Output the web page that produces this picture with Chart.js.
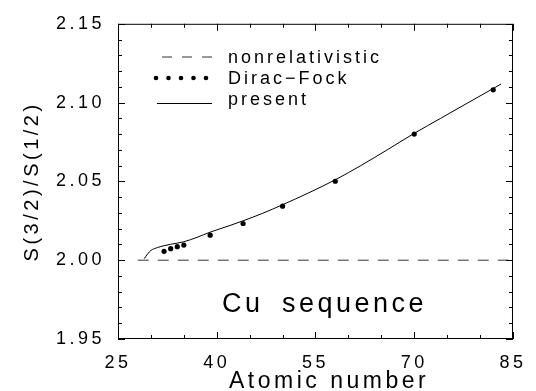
<!DOCTYPE html>
<html>
<head>
<meta charset="utf-8">
<script src="https://cdn.jsdelivr.net/npm/chart.js@4/dist/chart.umd.min.js"></script>
<style>
  html, body { margin: 0; padding: 0; background: #fff; }
</style>
</head>
<body>
<canvas id="myChart" width="536" height="391"></canvas>
<script>
// ----- data -----
const presentZ = [29, 29.5, 30, 31, 32, 33, 35, 37, 39, 42, 44, 47, 50, 54, 58, 62, 66, 70, 74, 78, 83.2];
const presentRatio = [2.0010, 2.0040, 2.0062, 2.0080, 2.0092, 2.0101, 2.0117, 2.0145, 2.0178, 2.0220,
                      2.0250, 2.0298, 2.0352, 2.0428, 2.0510, 2.0603, 2.0703, 2.0805, 2.0900, 2.0995, 2.1118];
const diracFockZ = [32, 33, 34, 35, 39, 44, 50, 58, 70, 82];
const diracFockRatio = [2.0056, 2.0073, 2.0086, 2.0096, 2.0159, 2.0233, 2.0343, 2.0501, 2.0800, 2.1081];
const nonrelZ = [28, 85];
const nonrelRatio = [2.00, 2.00];

const xTicks = [25, 40, 55, 70, 85];
const yTicks = [1.95, 2.00, 2.05, 2.10, 2.15];
const legendLabels = ['nonrelativistic', 'Dirac\u2212Fock', 'present'];
const xTitle = 'Atomic number';
const yTitle = 'S(3/2)/S(1/2)';

const toPoints = (xs, ys) => xs.map((x, i) => ({x: x, y: ys[i]}));

const FONT = '"Liberation Sans", Arial, sans-serif';

// inward ticks, frame, legend, x title and the "Cu sequence" note
const framePlugin = {
    id: 'frame',
    beforeDraw(chart) {
        chart.ctx.letterSpacing = '3.5px';
    },
    afterDatasetsDraw(chart) {
        const ctx = chart.ctx;
        const a = chart.chartArea;
        const xs = chart.scales.x, ys = chart.scales.y;
        ctx.save();
        ctx.strokeStyle = '#000';
        ctx.lineWidth = 1;
        ctx.strokeRect(a.left + 0.5, a.top + 0.5, a.right - a.left - 1, a.bottom - a.top - 1);

        ctx.beginPath();
        for (let v = 25; v <= 85; v += 5) {
            const px = Math.round(xs.getPixelForValue(v)) + 0.5;
            const len = (v - 25) % 15 === 0 ? 7 : 4;
            ctx.moveTo(px, a.bottom); ctx.lineTo(px, a.bottom - len);
            ctx.moveTo(px, a.top); ctx.lineTo(px, a.top + len);
        }
        for (let i = 0; i <= 20; i++) {
            const v = 1.95 + i * 0.01;
            const py = Math.round(ys.getPixelForValue(v)) + 0.5;
            const len = i % 5 === 0 ? 7 : 4;
            ctx.moveTo(a.left, py); ctx.lineTo(a.left + len, py);
            ctx.moveTo(a.right, py); ctx.lineTo(a.right - len, py);
        }
        ctx.stroke();

        // legend
        ctx.fillStyle = '#000';
        ctx.font = '18px ' + FONT;
        ctx.letterSpacing = '3px';
        ctx.textBaseline = 'alphabetic';
        ctx.textAlign = 'left';
        const rows = [63, 83.5, 105];
        const markY = [57, 78, 103.5];
        const x0 = 157, x1 = 212, tx = 228;

        ctx.strokeStyle = '#333';
        ctx.setLineDash([10, 10]);
        ctx.beginPath(); ctx.moveTo(x0 + 5, markY[0]); ctx.lineTo(x1, markY[0]); ctx.stroke();
        ctx.setLineDash([]);
        for (let k = 0; k < 5; k++) {
            ctx.beginPath();
            ctx.arc(156 + k * 12.5, markY[1], 2.3, 0, Math.PI * 2);
            ctx.fill();
        }
        ctx.strokeStyle = '#000';
        ctx.beginPath(); ctx.moveTo(x0, markY[2]); ctx.lineTo(x1, markY[2]); ctx.stroke();

        legendLabels.forEach((t, i) => ctx.fillText(t, tx, rows[i]));

        // panel note
        ctx.font = '27px ' + FONT;
        ctx.letterSpacing = '3.5px';
        ctx.fillText('Cu', 222, 312);
        ctx.fillText('sequence', 282, 312);

        // x axis title (sits a little right of the axis centre in the original)
        ctx.font = '23px ' + FONT;
        ctx.letterSpacing = '3.5px';
        ctx.fillText(xTitle, 229, 388);
        ctx.restore();
    }
};

const ctx = document.getElementById('myChart').getContext('2d');
const myChart = new Chart(ctx, {
    type: 'scatter',
    data: {
        datasets: [
            {
                label: legendLabels[0],
                data: toPoints(nonrelZ, nonrelRatio),
                showLine: true,
                borderColor: '#333',
                borderWidth: 1,
                borderDash: [11, 9],
                pointRadius: 0
            },
            {
                label: legendLabels[1],
                data: toPoints(diracFockZ, diracFockRatio),
                showLine: false,
                pointRadius: 2.6,
                pointBackgroundColor: '#000',
                pointBorderWidth: 0
            },
            {
                label: legendLabels[2],
                data: toPoints(presentZ, presentRatio),
                showLine: true,
                borderColor: '#000',
                borderWidth: 1,
                cubicInterpolationMode: 'monotone',
                pointRadius: 0
            }
        ]
    },
    options: {
        responsive: false,
        animation: false,
        layout: { padding: { top: 18, right: 12, bottom: 0, left: 0 } },
        plugins: {
            legend: { display: false },
            tooltip: { enabled: false }
        },
        scales: {
            x: {
                type: 'linear',
                min: 25,
                max: 85,
                afterBuildTicks: s => { s.ticks = xTicks.map(v => ({value: v})); },
                afterFit: s => { s.height = 52; },
                grid: { display: false, drawTicks: false },
                border: { display: false },
                ticks: {
                    padding: 13,
                    maxRotation: 0,
                    color: '#000',
                    font: { family: FONT, size: 18 }
                },
                title: { display: false, text: xTitle }
            },
            y: {
                type: 'linear',
                min: 1.95,
                max: 2.15,
                afterBuildTicks: s => { s.ticks = yTicks.map(v => ({value: v})); },
                afterFit: s => { s.width = 118; },
                grid: { display: false, drawTicks: false },
                border: { display: false },
                ticks: {
                    padding: 13,
                    color: '#000',
                    font: { family: FONT, size: 18 },
                    callback: v => v.toFixed(2)
                },
                title: {
                    display: true,
                    text: yTitle,
                    color: '#000',
                    font: { family: FONT, size: 20 },
                    padding: { top: 20, bottom: 0 }
                }
            }
        }
    },
    plugins: [framePlugin]
});
</script>
</body>
</html>
